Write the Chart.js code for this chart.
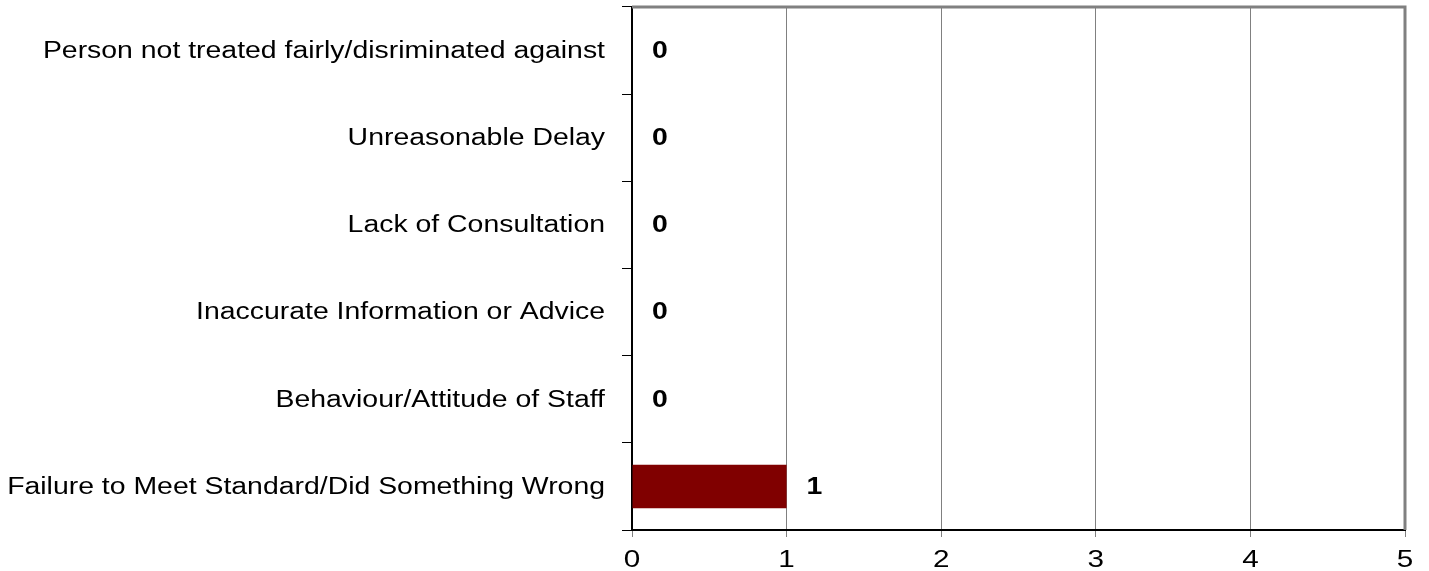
<!DOCTYPE html>
<html>
<head>
<meta charset="utf-8">
<script src="https://cdn.jsdelivr.net/npm/chart.js@4/dist/chart.umd.min.js"></script>
<style>
  html, body { margin: 0; padding: 0; background: #fff; }
  #wrap { width: 1429px; height: 571px; }
</style>
</head>
<body>
<div id="wrap"><canvas id="chart"></canvas></div>
<script>
const categories = [
  "Person not treated fairly/disriminated against",
  "Unreasonable Delay",
  "Lack of Consultation",
  "Inaccurate Information or Advice",
  "Behaviour/Attitude of Staff",
  "Failure to Meet Standard/Did Something Wrong",
];
const counts = [0, 0, 0, 0, 0, 1];
const xTicks = [0, 1, 2, 3, 4, 5];

const font = "'Liberation Sans', Arial, sans-serif";
const STRETCH = 1.235; // the original text is drawn a bit wide

function wideText(ctx, text, x, y, align) {
  ctx.save();
  ctx.translate(x, y);
  ctx.scale(STRETCH, 1);
  ctx.textAlign = align;
  ctx.fillText(text, 0, 0);
  ctx.restore();
}

// axis labels + value labels, drawn wide
const labels = {
  id: "labels",
  afterDraw(chart) {
    const ctx = chart.ctx;
    const ys = chart.scales.y;
    const xs = chart.scales.x;
    ctx.save();
    ctx.fillStyle = "#000";
    ctx.textBaseline = "middle";
    ctx.font = "23px " + font;
    categories.forEach((c, i) => {
      wideText(ctx, c, 605, ys.getPixelForValue(i) + 1, "right");
    });
    ctx.textBaseline = "alphabetic";
    ctx.font = "24px " + font;
    xTicks.forEach((v) => {
      wideText(ctx, String(v), xs.getPixelForValue(v), 567, "center");
    });
    ctx.font = "bold 23px " + font;
    ctx.textBaseline = "middle";
    chart.getDatasetMeta(0).data.forEach((bar, i) => {
      wideText(ctx, String(counts[i]), bar.x + 20, bar.y + 1, "left");
    });
    ctx.restore();
  },
};

// grey frame on top and right of the plot
const frame = {
  id: "frame",
  afterDraw(chart) {
    const a = chart.chartArea;
    const ctx = chart.ctx;
    ctx.save();
    ctx.strokeStyle = "#808080";
    ctx.lineWidth = 3;
    ctx.beginPath();
    ctx.moveTo(a.left, a.top);
    ctx.lineTo(a.right, a.top);
    ctx.lineTo(a.right, a.bottom);
    ctx.stroke();
    ctx.restore();
  },
};

new Chart(document.getElementById("chart"), {
  type: "bar",
  data: {
    labels: categories,
    datasets: [
      {
        data: counts,
        backgroundColor: "#800000",
        borderWidth: 0,
        barPercentage: 0.5,
        categoryPercentage: 1,
      },
    ],
  },
  options: {
    indexAxis: "y",
    responsive: true,
    maintainAspectRatio: false,
    animation: false,
    layout: { padding: { top: 7, right: 24, left: 0, bottom: 0 } },
    plugins: {
      legend: { display: false },
      tooltip: { enabled: false },
    },
    scales: {
      y: {
        afterFit(scale) {
          scale.width = 632;
          scale.paddingTop = 0;
          scale.paddingBottom = 0;
        },
        grid: {
          offset: true,
          drawOnChartArea: false,
          tickLength: 10,
          tickColor: "#000",
        },
        border: { color: "#000", width: 2 },
        ticks: { display: false },
      },
      x: {
        min: 0,
        max: 5,
        afterBuildTicks(scale) {
          scale.ticks = xTicks.map((v) => ({ value: v }));
        },
        afterFit(scale) {
          scale.height = 41;
          scale.paddingLeft = 0;
          scale.paddingRight = 0;
        },
        grid: {
          color: "#808080",
          lineWidth: 1,
          tickLength: 7,
          tickColor: "#808080",
        },
        border: { color: "#000", width: 2 },
        ticks: { display: false },
      },
    },
  },
  plugins: [labels, frame],
});
</script>
</body>
</html>
